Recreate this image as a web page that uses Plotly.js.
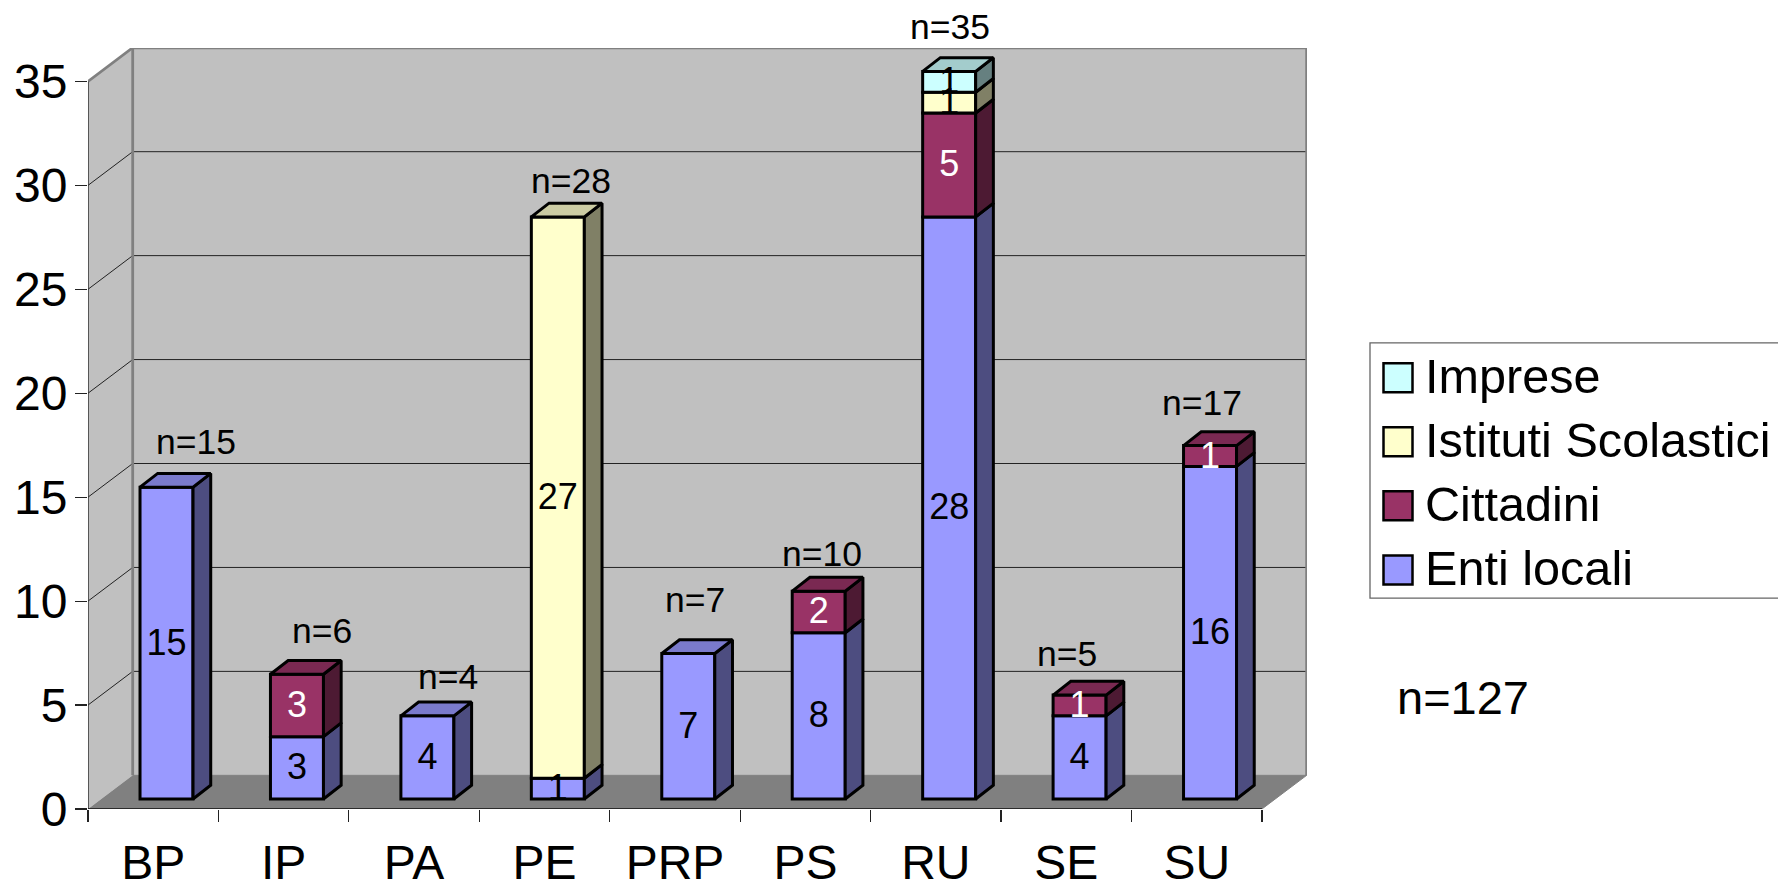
<!DOCTYPE html>
<html>
<head>
<meta charset="utf-8">
<script src="https://cdn.plot.ly/plotly-3.0.1.min.js"></script>
<style>html,body{margin:0;padding:0;background:#fff;overflow:hidden}#chart{width:1778px;height:882px}</style>
</head>
<body>
<div id="chart"></div>
<script>
// ---- data ----
const categories = ["BP","IP","PA","PE","PRP","PS","RU","SE","SU"];
const entiLocali = [15,3,4,1,7,8,28,4,16];
const cittadini  = [0,3,0,0,0,2,5,1,1];
const istituti   = [0,0,0,27,0,0,1,0,0];
const imprese    = [0,0,0,0,0,0,1,0,0];
const yTicks = [0,5,10,15,20,25,30,35];
const seriesNames = ["Enti locali","Cittadini","Istituti Scolastici","Imprese"];
const grandTotal = "n=127";

// ---- styling ----
const font = "Liberation Sans, Arial, sans-serif";
const front = ["#9999FF","#993366","#FFFFCC","#CCFFFF"];
const side  = ["#4D4D80","#4D1A33","#808066","#668080"];
const top_  = ["#7A7ACC","#7A2952","#CCCCA3","#A3CCCC"];
const labelColor = ["#000","#fff","#000","#000"];
const allSeries = [entiLocali,cittadini,istituti,imprese];
// shift of the "n=" labels from the top of each bar, px
const nShiftX = [29,25,20.5,13,7,3.5,1,-13,-8];
const nShiftY = [45,43,39,36,53,37,44,41,43];

// ---- geometry (pixels -> axis units) ----
const L=88, R=1307, B=809.3, T=47.5, PX=130.44, PY=20.81;
const xMax=(R-L)/PX, yMax=(B-T)/PY;
const wallDX=44.7/PX, wallDY=33.7/PY;
const barW=53/PX, barOffX=13.3/PX, barOffY=10/PY, depthX=17.7/PX, depthY=13.8/PY;
const labelDrop=2.5/PY;
const px=v=>(v-L)/(R-L), py=v=>(B-v)/(B-T);
const centers=categories.map((c,i)=>i+0.5+barOffX);
const edge=3;

const traces=[];
// walls and floor, on the base axes (below the bars)
function poly(xs,ys,fill){traces.push({x:xs,y:ys,mode:'lines',fill:'toself',fillcolor:fill,line:{width:0},xaxis:'x',yaxis:'y',showlegend:false,hoverinfo:'skip',cliponaxis:false});}
function line(xs,ys,color,w){traces.push({x:xs,y:ys,mode:'lines',line:{color:color,width:w},xaxis:'x',yaxis:'y',showlegend:false,hoverinfo:'skip',cliponaxis:false});}
const n=categories.length, yTop=yTicks[yTicks.length-1];
poly([wallDX,n+wallDX,n+wallDX,wallDX,wallDX],[wallDY,wallDY,yTop+wallDY,yTop+wallDY,wallDY],"#C0C0C0");
poly([0,wallDX,wallDX,0,0],[0,wallDY,yTop+wallDY,yTop,0],"#C0C0C0");
poly([0,n,n+wallDX,wallDX,0],[0,0,wallDY,wallDY,0],"#808080");
yTicks.slice(1,-1).forEach(v=>{
  line([0,wallDX,n+wallDX],[v,v+wallDY,v+wallDY],"#222",1);
});
line([0,wallDX,n+wallDX,n+wallDX],[yTop,yTop+wallDY,yTop+wallDY,wallDY],"#808080",2.8);
line([wallDX,wallDX],[wallDY,yTop+wallDY],"#808080",2.8);
line([wallDX,n+wallDX],[wallDY,wallDY],"#808080",1);
line([n,n+wallDX],[0,wallDY],"#808080",1);
line([0,0],[0,yTop],"#333",1.5);
line([0,n],[0,0],"#111",1.3);

// bar fronts
const cum=categories.map(()=>0);
const bases=[];
allSeries.forEach((vals,s)=>{
  const b=cum.slice(); bases.push(b);
  traces.push({type:'bar',x:centers,y:vals.map(v=>v||null),base:b.map(v=>v+barOffY),width:barW,
    marker:{color:front[s],line:{color:'#000',width:edge}},xaxis:'x2',yaxis:'y2',showlegend:false,name:seriesNames[s],hoverinfo:'skip'});
  vals.forEach((v,i)=>cum[i]+=v);
});
// bar sides
allSeries.forEach((vals,s)=>{
  const xs=[],ys=[];
  vals.forEach((v,i)=>{ if(!v) return;
    const x0=centers[i]+barW/2, y0=bases[s][i]+barOffY, y1=y0+v;
    xs.push(x0,x0+depthX,x0+depthX,x0,x0,null);
    ys.push(y0,y0+depthY,y1+depthY,y1,y0,null);
  });
  traces.push({x:xs,y:ys,mode:'lines',fill:'toself',fillcolor:side[s],line:{color:'#000',width:edge},xaxis:'x2',yaxis:'y2',showlegend:false,hoverinfo:'skip'});
});
// bar tops
allSeries.forEach((vals,s)=>{
  const xs=[],ys=[];
  vals.forEach((v,i)=>{ if(!v||cum[i]!==bases[s][i]+v) return;
    const xl=centers[i]-barW/2, xr=centers[i]+barW/2, y=cum[i]+barOffY;
    xs.push(xl,xr,xr+depthX,xl+depthX,xl,null);
    ys.push(y,y,y+depthY,y+depthY,y,null);
  });
  traces.push({x:xs,y:ys,mode:'lines',fill:'toself',fillcolor:top_[s],line:{color:'#000',width:edge},xaxis:'x2',yaxis:'y2',showlegend:false,hoverinfo:'skip'});
});
// value labels
allSeries.forEach((vals,s)=>{
  traces.push({x:centers,y:vals.map((v,i)=>v?bases[s][i]+v/2+barOffY-labelDrop:null),text:vals.map(v=>v?String(v):''),
    mode:'text',textposition:'middle center',textfont:{family:font,size:36,color:labelColor[s]},
    xaxis:'x2',yaxis:'y2',showlegend:false,hoverinfo:'skip',cliponaxis:false});
});

// ---- annotations & legend (drawn by hand: swatch size is not available in plotly's legend) ----
const annotations=categories.map((c,i)=>({x:centers[i],y:cum[i]+barOffY,xref:'x',yref:'y',text:'n='+cum[i],showarrow:false,
  xanchor:'center',yanchor:'middle',xshift:nShiftX[i],yshift:nShiftY[i],font:{family:font,size:35.5,color:'#000'}}));
annotations.push({x:px(1463),y:py(698),xref:'paper',yref:'paper',text:grandTotal,showarrow:false,xanchor:'center',yanchor:'middle',font:{family:font,size:47,color:'#000'}});
const shapes=[{type:'rect',xref:'paper',yref:'paper',x0:px(1370),x1:px(1790),y0:py(342.7),y1:py(598.3),line:{color:'#666',width:1.3},fillcolor:'#fff',layer:'above'}];
const legendY=[570,505.7,441.7,377.7];
seriesNames.forEach((name,s)=>{
  const c=legendY[s];
  shapes.push({type:'rect',xref:'paper',yref:'paper',x0:px(1383.5),x1:px(1412.5),y0:py(c-14.5),y1:py(c+14.5),fillcolor:front[s],line:{color:'#000',width:2.5},layer:'above'});
  annotations.push({x:px(1423),y:py(c-2),xref:'paper',yref:'paper',text:name,showarrow:false,xanchor:'left',yanchor:'middle',font:{family:font,size:48.6,color:'#000'}});
});

const layout={
  width:1778,height:882,paper_bgcolor:'#fff',plot_bgcolor:'#fff',showlegend:false,barmode:'overlay',
  margin:{l:L,r:1778-R,t:T,b:882-B,pad:0},
  font:{family:font,color:'#000'},
  xaxis:{range:[0,xMax],tickmode:'array',tickvals:categories.map((c,i)=>i+0.5),ticktext:categories,ticks:'',showgrid:false,zeroline:false,showline:false,
    tickfont:{family:font,size:48,color:'#000'},ticklabelstandoff:21},
  yaxis:{range:[0,yMax],tickmode:'array',tickvals:yTicks,ticks:'outside',ticklen:12,tickwidth:1.2,tickcolor:'#222',showgrid:false,zeroline:false,showline:false,
    tickfont:{family:font,size:48,color:'#000'},ticklabelstandoff:-2},
  xaxis2:{range:[0,xMax],overlaying:'x',anchor:'y2',tickmode:'array',tickvals:categories.map((c,i)=>i).concat([n]),ticks:'outside',ticklen:12,tickwidth:1.2,tickcolor:'#222',
    showticklabels:false,showgrid:false,zeroline:false,showline:false},
  yaxis2:{range:[0,yMax],overlaying:'y',anchor:'x2',showticklabels:false,ticks:'',showgrid:false,zeroline:false,showline:false},
  annotations,shapes
};
Plotly.newPlot('chart',traces,layout,{displayModeBar:false,staticPlot:true});
</script>
</body>
</html>
